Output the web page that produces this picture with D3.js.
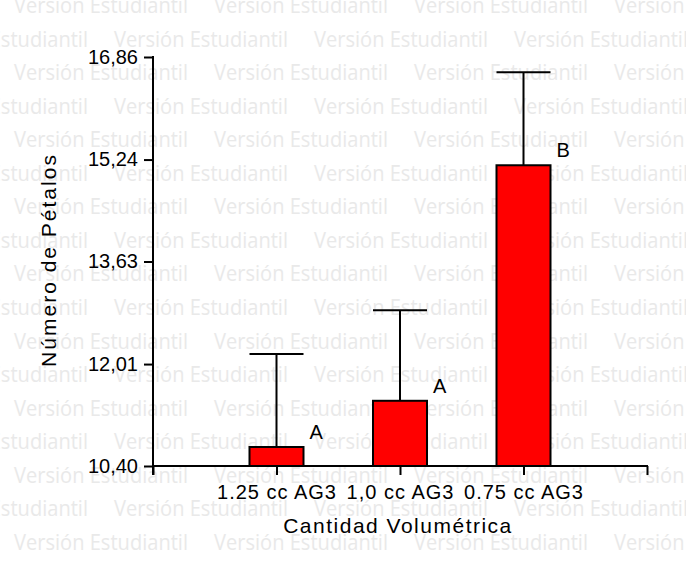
<!DOCTYPE html>
<html>
<head>
<meta charset="utf-8">
<script src="https://cdn.jsdelivr.net/npm/d3@7"></script>
<style>
  body { margin: 0; background: #fff; }
  svg { display: block; }
  text { font-family: "Liberation Sans", Arial, sans-serif; }
</style>
</head>
<body>
<script>
var width = 686;
var height = 562;

// chart data
var categories = ["1.25 cc AG3", "1,0 cc AG3", "0.75 cc AG3"];
var means = [10.70, 11.43, 15.15];
var errors = [1.47, 1.43, 1.47];
var letters = ["A", "A", "B"];
var yTicks = [10.40, 12.01, 13.63, 15.24, 16.86];

var svg = d3.select("body").append("svg").attr("width", width).attr("height", height);

// watermark rows
var wmRows = d3.range(17);
svg.append("g").selectAll("text")
    .data(d3.cross(wmRows, d3.range(-1, 4)))
    .enter()
    .append("text")
    .attr("x", function (d) { return (d[0] % 2 ? -86 : 14) + d[1] * 200; })
    .attr("y", function (d) { return 13 + d[0] * 33.55; })
    .attr("textLength", 174)
    .attr("lengthAdjust", "spacingAndGlyphs")
    .style("font-family", "'Open Sans', sans-serif")
    .style("font-size", "21px")
    .style("fill", "#e9e9e9")
    .text("Versión Estudiantil");

var x = d3.scalePoint()
    .domain(["_a"].concat(categories, ["_b"]))
    .range([153, 647]);
var y = d3.scaleLinear().domain([10.40, 16.86]).range([466, 57]);
var barW = 54;

var g = svg.append("g");

// error bars (upper only)
g.selectAll(".err")
    .data(categories)
    .enter()
    .append("path")
    .attr("d", function (d, i) {
        var cx = x(d);
        var top = y(means[i] + errors[i]);
        return "M" + cx + "," + y(means[i]) + "V" + top +
            "M" + (cx - barW / 2) + "," + top + "H" + (cx + barW / 2);
    })
    .style("stroke", "#000")
    .style("stroke-width", 2)
    .style("fill", "none");

// bars
g.selectAll("rect")
    .data(categories)
    .enter()
    .append("rect")
    .attr("x", function (d) { return x(d) - barW / 2; })
    .attr("y", function (d, i) { return y(means[i]); })
    .attr("width", barW)
    .attr("height", function (d, i) { return y(10.40) - y(means[i]); })
    .style("fill", "#ff0000")
    .style("stroke", "#000")
    .style("stroke-width", 2);

// significance letters
g.selectAll(".lbl")
    .data(categories)
    .enter()
    .append("text")
    .attr("x", function (d) { return x(d) + barW / 2 + 6; })
    .attr("y", function (d, i) { return y(means[i]) - 8; })
    .style("font-size", "20px")
    .text(function (d, i) { return letters[i]; });

// axes
var yAxis = svg.append("g")
    .attr("transform", "translate(153,0)")
    .call(d3.axisLeft(y).tickValues(yTicks).tickSize(9).tickPadding(6).tickSizeOuter(0)
        .tickFormat(function (d) { return d3.format(".2f")(d).replace(".", ","); }));

var xAxis = svg.append("g")
    .attr("transform", "translate(0,466)")
    .call(d3.axisBottom(x).tickSize(9).tickPadding(10).tickSizeOuter(0)
        .tickFormat(function (d) { return d.charAt(0) === "_" ? "" : d; }));

[yAxis, xAxis].forEach(function (a) {
    a.selectAll("path, line").style("stroke", "#000").style("stroke-width", 2);
    a.selectAll("text").style("font-size", "20px").style("fill", "#000")
        .style("font-family", "'Liberation Sans', Arial, sans-serif");
});
xAxis.select(".domain").attr("d", "M152,0H648");
yAxis.select(".domain").attr("d", "M0,56V475");
xAxis.selectAll("text").style("letter-spacing", "1px");

// axis titles
svg.append("text")
    .attr("x", 398)
    .attr("y", 533)
    .attr("text-anchor", "middle")
    .style("font-size", "21px")
    .style("letter-spacing", "1.5px")
    .text("Cantidad Volumétrica");

svg.append("text")
    .attr("transform", "translate(56,260) rotate(-90)")
    .attr("text-anchor", "middle")
    .style("font-size", "21px")
    .style("letter-spacing", "2px")
    .text("Número de Pétalos");
</script>
</body>
</html>
